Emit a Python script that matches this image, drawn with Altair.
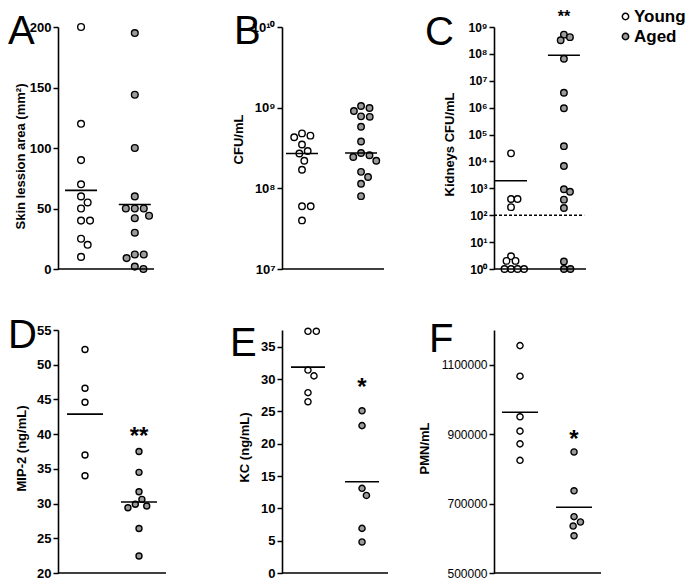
import math
import altair as alt
import pandas as pd

FONT = "Liberation Sans"
GRAY = "#9b9b9b"
GROUPS = ["Young", "Aged"]

# ---------------- data ----------------
a_young = [200, 120, 90, 70, 60, 55, 50, 40, 40, 25, 20, 10]
a_aged = [195, 144, 100, 60, 50, 50, 50, 44, 42, 30, 12, 12, 9, 2, 0]
b_young = [4.8e8, 4.5e8, 4.3e8, 3.5e8, 2.9e8, 2.7e8, 2.2e8, 1.7e8, 6e7, 6e7, 4e7]
b_aged = [1.05e9, 9.9e8, 9.1e8, 7.8e8, 7.7e8, 5.8e8, 3.8e8, 2.74e8, 2.57e8,
          2.45e8, 2.2e8, 1.6e8, 1.38e8, 1.14e8, 8e7]
c_young = [2e4, 400, 400, 200, 3, 2, 2, 1, 1, 1, 1]
c_aged = [5.2e8, 4.2e8, 3.2e8, 6.6e7, 3.6e6, 9.5e5, 3.7e4, 6.8e3, 920, 750,
          380, 185, 1.9, 1, 1]
d_young = [52.2, 46.6, 44.6, 37.0, 34.0]
d_aged = [37.5, 34.5, 31.7, 30.6, 29.9, 29.65, 29.4, 26.4, 22.45]
e_young = [37.4, 37.4, 31.4, 30.5, 27.9, 26.5]
e_aged = [25.1, 22.8, 13.1, 12.0, 6.9, 4.8]
f_young = [1155000, 1067000, 950000, 908700, 872000, 824600]
f_aged = [848700, 736800, 662300, 646900, 635300, 607200]

# significance marks: (text, value)
c_star = ("**", 1.5e9)
d_star = ("**", 38.6)
e_star = ("*", 27.5)
f_star = ("*", 862000)
c_limit = 100  # detection limit (dashed line)

SUP = str.maketrans("0123456789", "⁰¹²³⁴⁵⁶⁷⁸⁹")


def log_label_expr(exps):
    expr = "''"
    for e in reversed(exps):
        expr = f"datum.value == {10 ** e} ? '10{str(e).translate(SUP)}' : ({expr})"
    return expr


def swarm(values, to_px, diam):
    placed, offs = [], []
    for v in values:
        y = to_px(v)
        cands = [0.0]
        for px, py in placed:
            dy = abs(py - y)
            if dy < diam:
                dx = math.sqrt(diam * diam - dy * dy)
                cands += [px + dx, px - dx]
        cands.sort(key=lambda c: (round(abs(c), 6), -c))
        chosen = 0.0
        for c in cands:
            if all((c - px) ** 2 + (y - py) ** 2 >= diam * diam - 1e-6 for px, py in placed):
                chosen = c
                break
        placed.append((chosen, y))
        offs.append(chosen)
    return offs


def panel(cfg):
    lo, hi = cfg["domain"]
    log = cfg["log"]
    W, H, CW = cfg["width"], cfg["height"], cfg["cell"]
    f = (lambda v: math.log10(max(v, 1e-12))) if log else (lambda v: v)

    def to_px(v):
        return (f(v) - f(lo)) / (f(hi) - f(lo)) * H

    size = cfg["size"]
    diam = 2 * math.sqrt(size / math.pi) + 1.4
    rows, lines = [], []
    for g, vals, cx in zip(GROUPS, cfg["data"], cfg["centers"]):
        offs = swarm(vals, to_px, diam * cfg.get("pack", 1.0))
        for v, o in zip(vals, offs):
            rows.append({"group": g, "value": v, "x": cx + o / W})
        if cfg["stat"] == "median":
            s = sorted(vals)
            n = len(s)
            c = s[n // 2] if n % 2 else (s[n // 2 - 1] + s[n // 2]) / 2
        else:
            c = sum(vals) / len(vals)
        hw = cfg["halfw"] / W
        lines.append({"group": g, "value": c, "x": cx - hw, "x2": cx + hw})
    pts = pd.DataFrame(rows)
    ldf = pd.DataFrame(lines)

    xs = alt.Scale(domain=[0, CW / W], nice=False, zero=False)
    ys = alt.Scale(type="log" if log else "linear", domain=[lo, hi], nice=False, zero=False)
    xaxis = alt.Axis(title=None, labels=False, ticks=False, domain=False, grid=False)
    yaxis_kw = dict(values=cfg["ticks"], tickSize=5, labelPadding=2,
                    labelFontSize=cfg["lfs"], labelFontWeight=cfg["lfw"], labelOverlap=False,
                    labelSeparation=0, labelBound=False,
                    title=cfg["ytitle"], titleFontSize=13, titleFontWeight="bold",
                    titleX=cfg["tx"], titleY=cfg["ty"], titleBaseline="middle",
                    titleAlign="center", titleAngle=-90, grid=False)
    if log:
        exps = [round(math.log10(t)) for t in cfg["ticks"]]
        yaxis_kw["labelExpr"] = log_label_expr(exps)
    else:
        yaxis_kw["labelExpr"] = "format(datum.value, 'd')"
    yaxis = alt.Axis(**yaxis_kw)

    legend = cfg.get("legend")
    fill = alt.Fill("group:N", scale=alt.Scale(domain=GROUPS, range=["white", GRAY]),
                    legend=legend)

    def xq(field):
        return alt.X(field, type="quantitative", scale=xs, axis=xaxis)

    def yq():
        return alt.Y("value:Q", scale=ys, axis=yaxis)

    points = alt.Chart(pts).mark_point(
        shape="circle", filled=True, stroke="black", strokeWidth=1.4, size=size, opacity=1
    ).encode(x=xq("x"), y=yq(), fill=fill)
    rules = alt.Chart(ldf).mark_rule(color="black", strokeWidth=1.6).encode(
        x=xq("x"), x2="x2:Q", y=yq()
    )
    base = pd.DataFrame({"value": [lo], "x": [0.0], "x2": [1.0]})
    baseline = alt.Chart(base).mark_rule(color="black", strokeWidth=1.6).encode(
        x=xq("x"), x2="x2:Q", y=yq()
    )
    layers = [points, rules, baseline]
    if cfg.get("limit") is not None:
        lim = pd.DataFrame({"value": [cfg["limit"]], "x": [0.0], "x2": [0.98]})
        layers.append(
            alt.Chart(lim).mark_rule(color="black", strokeWidth=1.5, strokeDash=[3, 2]).encode(
                x=xq("x"), x2="x2:Q", y=yq()
            )
        )
    if cfg.get("star") is not None:
        txt, val = cfg["star"]
        sdf = pd.DataFrame({"t": [txt], "value": [val], "x": [cfg["centers"][1]]})
        layers.append(
            alt.Chart(sdf).mark_text(
                font=FONT, fontSize=cfg["sfs"], fontWeight="bold", color="black",
                baseline="alphabetic", align="center"
            ).encode(x=xq("x"), y=yq(), text="t:N")
        )
    return alt.layer(*layers).properties(
        width=CW, height=H,
        title=alt.TitleParams(
            text=cfg["letter"], font=FONT, fontSize=40, fontWeight="normal", color="black",
            anchor="start", frame="group", orient="top", offset=0, baseline="alphabetic",
            dx=cfg["ldx"], dy=cfg["ldy"],
        ),
    )


common_top = dict(height=242)
common_bot = dict(height=243)

A = panel(dict(letter="A", data=[a_young, a_aged], domain=[0, 200], log=False,
               ticks=[0, 50, 100, 150, 200], stat="mean", width=96, cell=122, centers=[0.24, 0.80],
               halfw=16, size=45, lfs=13, lfw="bold", ytitle="Skin lession area (mm²)",
               tx=-37.5, ty=129, ldx=-50, ldy=63, **common_top))
B = panel(dict(letter="B", data=[b_young, b_aged], domain=[1e7, 1e10], log=True,
               ticks=[1e7, 1e8, 1e9, 1e10], stat="median", width=102, cell=112, centers=[0.196, 0.775],
               halfw=16, size=42, lfs=13, lfw="bold", ytitle="CFU/mL",
               tx=-44, ty=112, ldx=-48, ldy=63, **common_top))
C = panel(dict(letter="C", data=[c_young, c_aged], domain=[1, 1e9], log=True,
               ticks=[10 ** k for k in range(10)], stat="mean", width=92, cell=92, centers=[0.185, 0.76],
               halfw=16, size=42, lfs=12, lfw="bold", ytitle="Kidneys CFU/mL",
               tx=-45, ty=117, ldx=-69, ldy=77, star=c_star, sfs=16, limit=c_limit, pack=0.75,
               legend=alt.Legend(orient="none", legendX=123, legendY=-19, title=None,
                                 labelFont=FONT, labelFontSize=17, labelFontWeight="bold",
                                 labelColor="black", symbolType="circle", symbolSize=40,
                                 symbolStrokeColor="black", symbolStrokeWidth=1.5,
                                 symbolOpacity=1, padding=0, rowPadding=2, labelOffset=0),
               **common_top))
D = panel(dict(letter="D", data=[d_young, d_aged], domain=[20, 55], log=False,
               ticks=[20, 25, 30, 35, 40, 45, 50, 55], stat="mean", width=108, cell=124, centers=[0.25, 0.75],
               halfw=18, size=36, lfs=13, lfw="bold", ytitle="MIP-2 (ng/mL)",
               tx=-37, ty=118, ldx=-50, ldy=64, star=d_star, sfs=24, **common_bot))
E = panel(dict(letter="E", data=[e_young, e_aged], domain=[0, 37.6], log=False,
               ticks=[0, 5, 10, 15, 20, 25, 30, 35], stat="mean", width=106, cell=106, centers=[0.245, 0.755],
               halfw=17, size=38, lfs=13, lfw="bold", ytitle="KC (ng/mL)",
               tx=-38, ty=117, ldx=-52, ldy=71, star=e_star, sfs=24, **common_bot))
F = panel(dict(letter="F", data=[f_young, f_aged], domain=[500000, 1200000], log=False,
               ticks=[500000, 700000, 900000, 1100000], stat="mean", width=107, cell=107, centers=[0.243, 0.748],
               halfw=18, size=38, lfs=12, lfw="normal", ytitle="PMN/mL",
               tx=-70, ty=118, ldx=-65, ldy=62, star=f_star, sfs=24, **common_bot))

chart = (
    alt.concat(A, B, C, D, E, F, columns=3, spacing={"row": 61, "column": 100},
               bounds="flush", align="none")
    .resolve_scale(fill="independent")
    .properties(padding={"top": 0, "left": 0, "right": 0, "bottom": 0}, background="white")
    .configure_view(strokeWidth=0)
    .configure_axis(domainColor="black", domainWidth=1.6, tickColor="black", tickWidth=1.5,
                    labelColor="black", labelFont=FONT, titleFont=FONT, titleColor="black",
                    grid=False)
)

chart.save("out.html", embed_options={"renderer": "svg", "actions": False})
